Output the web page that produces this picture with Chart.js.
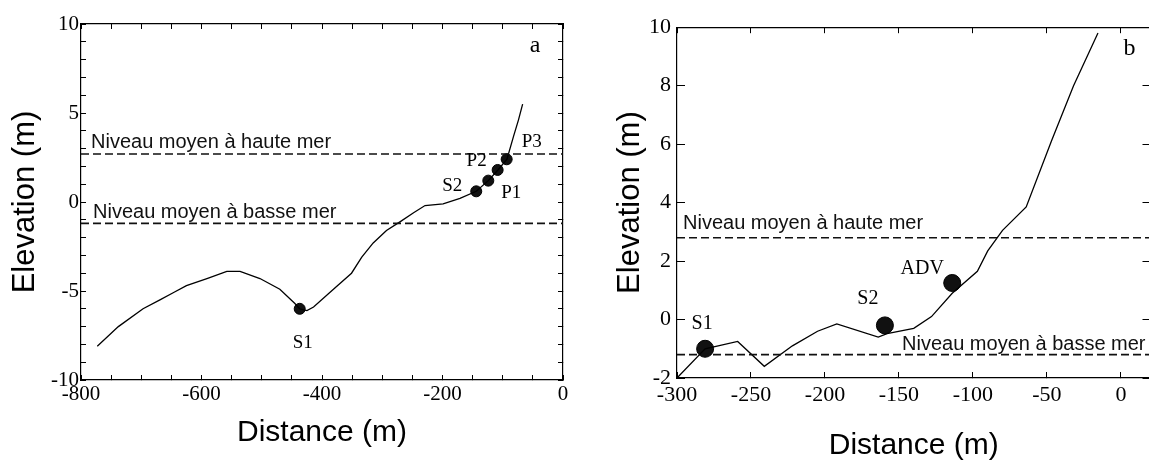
<!DOCTYPE html>
<html lang="fr">
<head>
<meta charset="UTF-8">
<title>Profils de plage</title>
<script src="https://cdn.jsdelivr.net/npm/chart.js"></script>
<style>
  html, body { margin: 0; padding: 0; background: #fff; overflow: hidden; }
  #wrap { position: relative; width: 1149px; height: 461px; overflow: hidden; }
  #chartA { position: absolute; left: 0; top: 0; }
  #chartB { position: absolute; left: 580px; top: 0; }
</style>
</head>
<body>
<div id="wrap">
  <canvas id="chartA" width="580" height="461"></canvas>
  <canvas id="chartB" width="580" height="461"></canvas>
</div>
<script>
// ---- profil a ----
const distA = [-773, -738, -697, -669, -647, -625, -591, -558, -536, -503, -470, -445, -437, -425, -414, -381, -351, -334, -315, -293, -270, -248, -229, -199, -171, -144, -124, -108, -93, -82, -74, -67];
const elevA = [-8.1, -7.0, -6.0, -5.5, -5.1, -4.7, -4.3, -3.9, -3.9, -4.3, -4.9, -5.7, -6.0, -6.1, -5.9, -4.9, -4.0, -3.1, -2.3, -1.6, -1.1, -0.6, -0.2, -0.1, 0.2, 0.6, 1.2, 1.8, 2.4, 3.7, 4.6, 5.5];
const siteNamesA = ['S1', 'S2', 'P1', 'P2', 'P3'];
const siteDistA = [-437, -144, -124, -108.5, -93.5];
const siteElevA = [-6.0, 0.6, 1.2, 1.8, 2.4];
const highTideA = 2.7;
const lowTideA = -1.2;
const xLabelsA = [-800, -600, -400, -200, 0];
const yLabelsA = [-10, -5, 0, 5, 10];

// ---- profil b ----
const distB = [-300, -281, -259, -241, -222, -205, -192, -164, -158, -140, -128, -114, -97, -90, -80, -64, -47, -32, -15.5];
const elevB = [-2.0, -1.0, -0.75, -1.6, -0.9, -0.4, -0.15, -0.6, -0.48, -0.3, 0.1, 0.9, 1.65, 2.35, 3.05, 3.85, 6.1, 8.0, 9.8];
const siteNamesB = ['S1', 'S2', 'ADV'];
const siteDistB = [-281, -159.5, -114];
const siteElevB = [-1.0, -0.2, 1.25];
const highTideB = 2.8;
const lowTideB = -1.2;
const xLabelsB = [-300, -250, -200, -150, -100, -50, 0];
const yLabelsB = [-2, 0, 2, 4, 6, 8, 10];

const HIGH_TEXT = 'Niveau moyen à haute mer';
const LOW_TEXT = 'Niveau moyen à basse mer';
const SERIF = '"Liberation Serif", "Times New Roman", serif';
const SANS = '"Liberation Sans", Arial, sans-serif';

// labels des sites, textes des niveaux et lettre du panneau
const annotate = {
  id: 'annotate',
  afterDatasetsDraw(chart, args, o) {
    const { ctx, chartArea } = chart;
    const xs = chart.scales.x, ys = chart.scales.y;
    ctx.save();
    ctx.fillStyle = '#000';
    ctx.textBaseline = 'middle';
    ctx.textAlign = 'center';
    ctx.font = o.siteFont;
    o.names.forEach((name, i) => {
      ctx.fillText(name,
        xs.getPixelForValue(o.dist[i]) + o.offsets[i][0],
        ys.getPixelForValue(o.elev[i]) + o.offsets[i][1]);
    });
    ctx.font = o.tideFont;
    ctx.fillStyle = '#111';
    o.tides.forEach(t => {
      ctx.textAlign = t.align;
      const x = t.align === 'left' ? chartArea.left + t.dx : chartArea.right + t.dx;
      ctx.fillText(t.text, x, ys.getPixelForValue(t.level) + t.dy);
    });
    ctx.fillStyle = '#000';
    ctx.textAlign = 'center';
    ctx.font = o.letterFont;
    ctx.fillText(o.letter, chartArea.right + o.letterPos[0], chartArea.top + o.letterPos[1]);
    ctx.restore();
  }
};

function axis(min, max, step, position, tickLen, extra) {
  return Object.assign({
    type: 'linear', position, min, max,
    border: { display: true, color: '#000', width: 1.2 },
    grid: { drawOnChartArea: false, drawTicks: true, tickLength: tickLen, color: '#000', tickWidth: 1 },
    ticks: { display: false, stepSize: step, autoSkip: false, maxRotation: 0, includeBounds: false }
  }, extra);
}

function makeChart(id, p) {
  const tide = level => ({
    data: [{ x: p.xMin, y: level }, { x: p.xMax, y: level }],
    showLine: true, borderColor: '#111', borderWidth: 1.6, borderDash: [8, 4],
    pointRadius: 0
  });
  new Chart(document.getElementById(id), {
    type: 'scatter',
    data: {
      datasets: [
        tide(p.high), tide(p.low),
        {
          data: p.dist.map((d, i) => ({ x: d, y: p.elev[i] })),
          showLine: true, borderColor: '#000', borderWidth: 1.3, pointRadius: 0, tension: 0
        },
        {
          data: p.siteDist.map((d, i) => ({ x: d, y: p.siteElev[i] })),
          showLine: false, pointRadius: p.dotR, backgroundColor: '#111', borderColor: '#000', borderWidth: 1
        }
      ]
    },
    options: {
      responsive: false, animation: false, events: [],
      layout: { padding: { top: p.top, right: p.right, left: 0, bottom: 0 } },
      plugins: {
        legend: { display: false }, tooltip: { enabled: false },
        annotate: {
          names: p.siteNames, dist: p.siteDist, elev: p.siteElev, offsets: p.offsets,
          siteFont: p.siteFont, tideFont: '20px ' + SANS,
          tides: [
            Object.assign({ text: HIGH_TEXT, level: p.high }, p.highText),
            Object.assign({ text: LOW_TEXT, level: p.low }, p.lowText)
          ],
          letter: p.letter, letterPos: p.letterPos, letterFont: '24px ' + SERIF
        }
      },
      scales: {
        x: axis(p.xMin, p.xMax, p.xStep, 'bottom', p.xTick, {
          afterFit: s => { s.height = p.xAxisH; },
          ticks: {
            display: true, stepSize: p.xStep, autoSkip: false, maxRotation: 0, includeBounds: false, color: '#000',
            padding: p.xPad, font: { family: SERIF, size: p.tickSize },
            callback: v => p.xLabels.includes(v) ? String(v) : ''
          },
          title: {
            display: true, text: 'Distance (m)', color: '#000',
            font: { family: SANS, size: 30, lineHeight: 1 }, padding: { top: 0, bottom: p.xTitlePad }
          }
        }),
        y: axis(p.yMin, p.yMax, p.yStep, 'left', p.yTick, {
          afterFit: s => { s.width = p.yAxisW; },
          ticks: {
            display: true, stepSize: p.yStep, autoSkip: false, includeBounds: false, color: '#000',
            padding: p.yPad, font: { family: SERIF, size: p.tickSize },
            callback: v => p.yLabels.includes(v) ? String(v) : ''
          },
          title: {
            display: true, text: 'Elevation (m)', color: '#000',
            font: { family: SANS, size: 31, lineHeight: 1 }, padding: { top: p.yTitlePad, bottom: 0 }
          }
        }),
        x2: axis(p.xMin, p.xMax, p.xStep, 'top', p.xTick, { afterFit: s => { s.height = 0; } }),
        y2: axis(p.yMin, p.yMax, p.yStep, 'right', p.yTick, { afterFit: s => { s.width = 0; } })
      }
    },
    plugins: [annotate]
  });
}

// Panneau a
makeChart('chartA', {
  dist: distA, elev: elevA, siteNames: siteNamesA, siteDist: siteDistA, siteElev: siteElevA,
  high: highTideA, low: lowTideA, xLabels: xLabelsA, yLabels: yLabelsA,
  xMin: -800, xMax: 0, xStep: 50, yMin: -10, yMax: 10, yStep: 1,
  top: 24, right: 17, xAxisH: 81, yAxisW: 81,
  xTick: -5, yTick: -5, xPad: 7, yPad: 7, tickSize: 21,
  xTitlePad: 13, yTitlePad: 10,
  dotR: 5.5, siteFont: '19px ' + SERIF,
  offsets: [[3, 34], [-24, -5], [23, 12], [-21, -9], [25, -17]],
  highText: { align: 'left', dx: 10, dy: -11 },
  lowText: { align: 'left', dx: 12, dy: -11 },
  letter: 'a', letterPos: [-28, 22]
});

// Panneau b
makeChart('chartB', {
  dist: distB, elev: elevB, siteNames: siteNamesB, siteDist: siteDistB, siteElev: siteElevB,
  high: highTideB, low: lowTideB, xLabels: xLabelsB, yLabels: yLabelsB,
  xMin: -300, xMax: 20, xStep: 50, yMin: -2, yMax: 10, yStep: 2,
  top: 26, right: 9, xAxisH: 83, yAxisW: 97,
  xTick: -6, yTick: -8, xPad: 10, yPad: 14, tickSize: 22,
  xTitlePad: 0, yTitlePad: 35,
  dotR: 8.5, siteFont: '20px ' + SERIF,
  offsets: [[-3, -25], [-17, -27], [-30, -14]],
  highText: { align: 'left', dx: 6, dy: -14 },
  lowText: { align: 'right', dx: -5, dy: -10 },
  letter: 'b', letterPos: [-21, 22]
});
</script>
</body>
</html>
